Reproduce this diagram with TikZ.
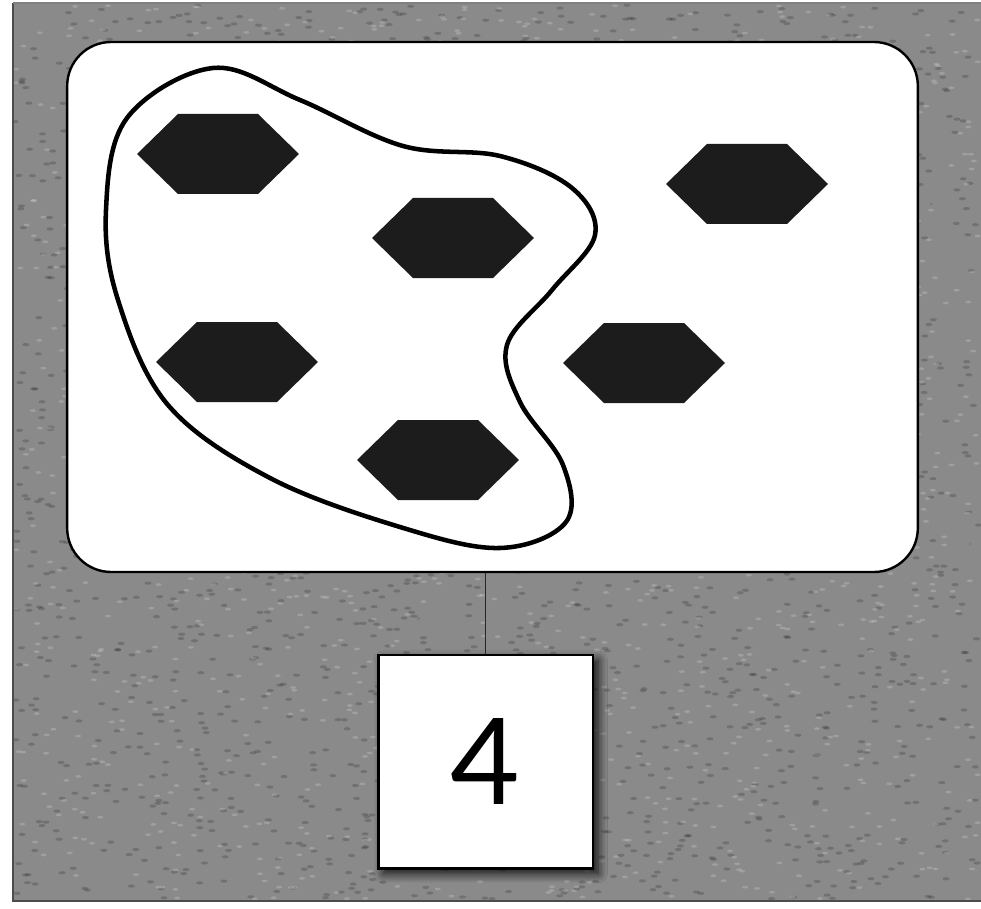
\documentclass[tikz,border=0pt]{standalone}
\usepackage{fontspec}
\setmainfont{Lato}
\usetikzlibrary{shadows.blur,calc}
\definecolor{bggray}{HTML}{8A8A8A}
\definecolor{hexcol}{HTML}{1C1C1C}
\tikzset{
  panel/.style={draw=black, line width=1.8pt, fill=white, rounded corners=33pt,
    minimum width=638pt, minimum height=397.5pt, inner sep=0pt},
  numbox/.style={draw=black, line width=2pt, fill=white, minimum width=161pt,
    minimum height=160pt, inner sep=0pt,
    blur shadow={shadow xshift=4pt, shadow yshift=-4pt, shadow blur steps=12,
      shadow blur radius=7pt, shadow opacity=90}},
  blobline/.style={draw=black, line width=3.4pt},
  link/.style={draw=black!85, line width=1.2pt},
  speck/.style={fill=black, opacity=0.18},
  lspeck/.style={fill=white, opacity=0.18},
  hex/.pic={\fill[hexcol] (-81,0) -- (-40,-40) -- (40,-40) -- (81,0) -- (40,40) -- (-40,40) -- cycle;}
}
\begin{document}
\begin{tikzpicture}[x=0.75pt,y=-0.75pt]
\useasboundingbox (0,0) rectangle (981,909);
\fill[white] (0,0) rectangle (981,909);
\fill[bggray] (13,3) rectangle (981,901);
% background texture
\pgfmathsetseed{7}
\foreach \i in {1,...,2200}{
  \pgfmathsetmacro\xx{15+964*rnd}
  \pgfmathsetmacro\yy{5+894*rnd}
  \fill[speck] (\xx,\yy) ellipse (3.5 and 1.6);
}
\foreach \i in {1,...,1500}{
  \pgfmathsetmacro\xx{15+964*rnd}
  \pgfmathsetmacro\yy{5+894*rnd}
  \fill[lspeck] (\xx,\yy) ellipse (3 and 1.4);
}
\draw[black!70, line width=1.5pt] (13,3) -- (13,901) -- (981,901);
\draw[black!50, line width=0.8pt] (13,3) -- (981,3);
% panel
\node[panel] (panel) at (492.5,307) {};
% hexagons
\pic (h1) at (218,154) {hex};
\pic (h2) at (453,238) {hex};
\pic (h3) at (237,362) {hex};
\pic (h4) at (438,460) {hex};
\pic (h5) at (747,184) {hex};
\pic (h6) at (644,363) {hex};
% blob
\draw[blobline] plot[smooth cycle, tension=0.6] coordinates {
  (213,68) (300,100) (403,146) (500,156) (572,188)
  (595,235) (552,290) (507,345) (520,402) (563,465)
  (566,522) (500,548) (400,527) (270,478) (168,405)
  (118,300) (106,210) (127,118)};
% number box
\node[numbox] (num) at (485.5,761.5) {\fontsize{90}{90}\selectfont 4};
\draw[link] (num.north) -- (num.north |- panel.south);
\end{tikzpicture}
\end{document}
